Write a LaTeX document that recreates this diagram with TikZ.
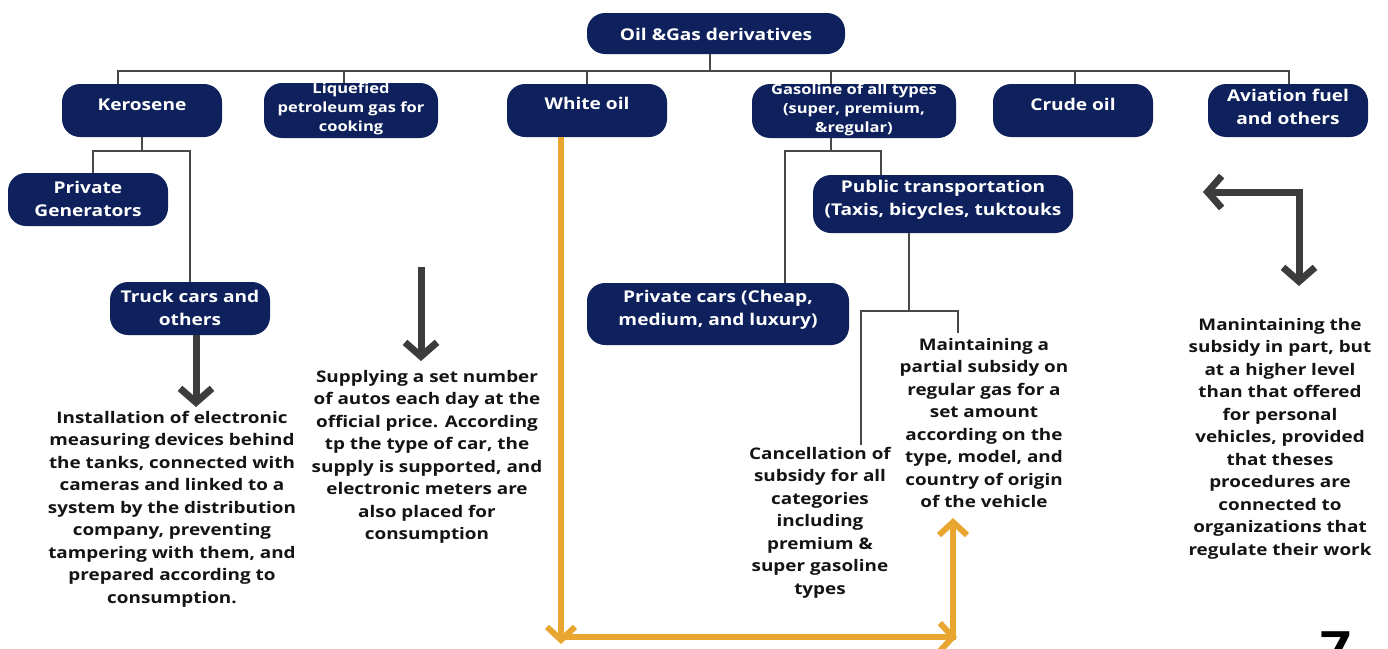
\documentclass[tikz,border=0pt]{standalone}
\usepackage{fontspec}
\setmainfont{Open Sans}[FakeStretch=1.18]
\usetikzlibrary{arrows.meta}
\definecolor{navy}{RGB}{14,33,92}
\definecolor{connc}{RGB}{72,72,72}
\definecolor{thickc}{RGB}{60,60,60}
\definecolor{gold}{RGB}{232,166,49}
\tikzset{
  box/.style={fill=navy, rounded corners=18pt, draw=none, inner sep=0pt},
  btext/.style={text=white, font=\bfseries\fontsize{16.2}{23}\selectfont, align=center, inner sep=0pt},
  sbtext/.style={text=white, font=\bfseries\fontsize{14}{19}\selectfont, align=center, inner sep=0pt},
  body/.style={font=\bfseries\fontsize{16}{22.5}\selectfont, align=center, text=black!92, inner sep=0pt},
  conn/.style={draw=connc, line width=2pt},
  bigarrow/.style={draw=thickc, line width=7pt, -{Straight Barb[length=14pt,width=32pt]}},
  goldarrow/.style={draw=gold, line width=6pt, -{Straight Barb[length=13pt,width=28pt]}}
}
\begin{document}
\begin{tikzpicture}[x=1pt,y=-1pt]
\useasboundingbox (0,0) rectangle (1388,648);
% boxes
\node[box, minimum width=258pt, minimum height=41pt] (top) at (716,33.5) {};
\node[btext] (topt) at (716,34) {Oil \&Gas derivatives};
\node[box, minimum width=160pt, minimum height=53pt] (ker) at (142,110.5) {};
\node[btext] (kert) at (142,105) {Kerosene};
\node[box, minimum width=174pt, minimum height=55pt] (lpg) at (351,110.5) {};
\node[sbtext] (lpgt) at (351,109) {Liquefied\\petroleum gas for\\cooking};
\node[box, minimum width=160pt, minimum height=53pt] (wo) at (587,110.5) {};
\node[btext] (wot) at (587,103) {White oil};
\node[box, minimum width=204pt, minimum height=54pt] (gas) at (854,111) {};
\node[sbtext] (gast) at (854,110) {Gasoline of all types\\(super, premium,\\\&regular)};
\node[box, minimum width=160pt, minimum height=53pt] (crude) at (1073,110.5) {};
\node[btext] (crudet) at (1073,104) {Crude oil};
\node[box, minimum width=160pt, minimum height=53pt] (avi) at (1288,110.5) {};
\node[btext] (avit) at (1288,106.5) {Aviation fuel\\and others};
\node[box, minimum width=160pt, minimum height=53pt] (gen) at (88,199.5) {};
\node[btext] (gent) at (88,198.5) {Private\\Generators};
\node[box, minimum width=160pt, minimum height=53pt] (truck) at (190,308.5) {};
\node[btext] (truckt) at (190,307.5) {Truck cars and\\others};
\node[box, minimum width=260pt, minimum height=58pt] (pub) at (943,204) {};
\node[btext] (pubt) at (943,199.5) {Public transportation\\(Taxis, bicycles, tuktouks};
\node[box, minimum width=262pt, minimum height=62pt] (pcar) at (718,314) {};
\node[btext] (pcart) at (718,310) {Private cars (Cheap,\\medium, and luxury)};
% body texts
\node[body] (inst) at (172,509) {Installation of electronic\\measuring devices behind\\the tanks, connected with\\cameras and linked to a\\system by the distribution\\company, preventing\\tampering with them, and\\prepared according to\\consumption.};
\node[body] (sup) at (427,457) {Supplying a set number\\of autos each day at the\\official price. According\\tp the type of car, the\\supply is supported, and\\electronic meters are\\also placed for\\consumption};
\node[body] (canc) at (820,522.5) {Cancellation of\\subsidy for all\\categories\\including\\premium \&\\super gasoline\\types};
\node[body] (maint) at (984,423) {Maintaining a\\partial subsidy on\\regular gas for a\\set amount\\according on the\\type, model, and\\country of origin\\of the vehicle};
\node[body] (man) at (1280,438.5) {Manintaining the\\subsidy in part, but\\at a higher level\\than that offered\\for personal\\vehicles, provided\\that theses\\procedures are\\connected to\\organizations that\\regulate their work};
\node[font=\bfseries\fontsize{46}{46}\selectfont, anchor=base, inner sep=0pt] (pg) at (1336,664) {7};
% tree connectors
\coordinate (bus) at (710,71);
\coordinate (busL) at (118,71);
\coordinate (busR) at (1289,71);
\draw[conn] (top.south -| bus) -- (bus);
\draw[conn] (ker.north -| busL) -- (busL) -- (busR) -- (avi.north -| busR);
\draw[conn] ([xshift=-7pt]lpg.north) |- (bus);
\draw[conn] (wo.north) |- (bus);
\draw[conn] ([xshift=-23pt]gas.north) |- (bus);
\draw[conn] ([xshift=2pt]crude.north) |- (bus);
\coordinate (kj) at (142,151);
\draw[conn] (ker.south) -- (kj);
\draw[conn] ([xshift=5pt]gen.north) |- (kj);
\draw[conn] (truck.north) |- (kj);
\coordinate (gj) at (831,151);
\draw[conn] (gas.south -| gj) -- (gj);
\draw[conn] ([xshift=67pt]pcar.north) |- (gj);
\draw[conn] ([xshift=-62pt]pub.north) |- (gj);
\coordinate (pj) at (909,311);
\draw[conn] (pub.south -| pj) -- (pj);
\coordinate (cj) at (861,445);
\coordinate (mj) at (958,333);
\draw[conn] (cj) |- (pj);
\draw[conn] (mj) |- (pj);
% thick arrows
\coordinate (a1) at (196,407);
\draw[bigarrow] (truck.south -| a1) -- (a1);
\coordinate (lpga) at (421,267);
\coordinate (lpgb) at (421,361);
\draw[bigarrow] (lpga) -- (lpgb);
\coordinate (elb) at (1299,192);
\coordinate (elbL) at (1203,192);
\coordinate (elbD) at (1299,286);
\draw[bigarrow] ([xshift=3.5pt]elb) -- (elbL);
\draw[bigarrow] (elb) -- (elbD);
% gold arrows
\coordinate (g1) at (561,637);
\coordinate (g2) at (953,637);
\coordinate (g1e) at (561,644);
\coordinate (g2e) at (957,637);
\coordinate (g3e) at (953,518);
\draw[goldarrow] (wo.south -| g1) -- (g1e);
\draw[goldarrow] ([xshift=-3pt]g1) -- (g2e);
\draw[goldarrow] ([yshift=-3pt]g2) -- (g3e);
\end{tikzpicture}
\end{document}
